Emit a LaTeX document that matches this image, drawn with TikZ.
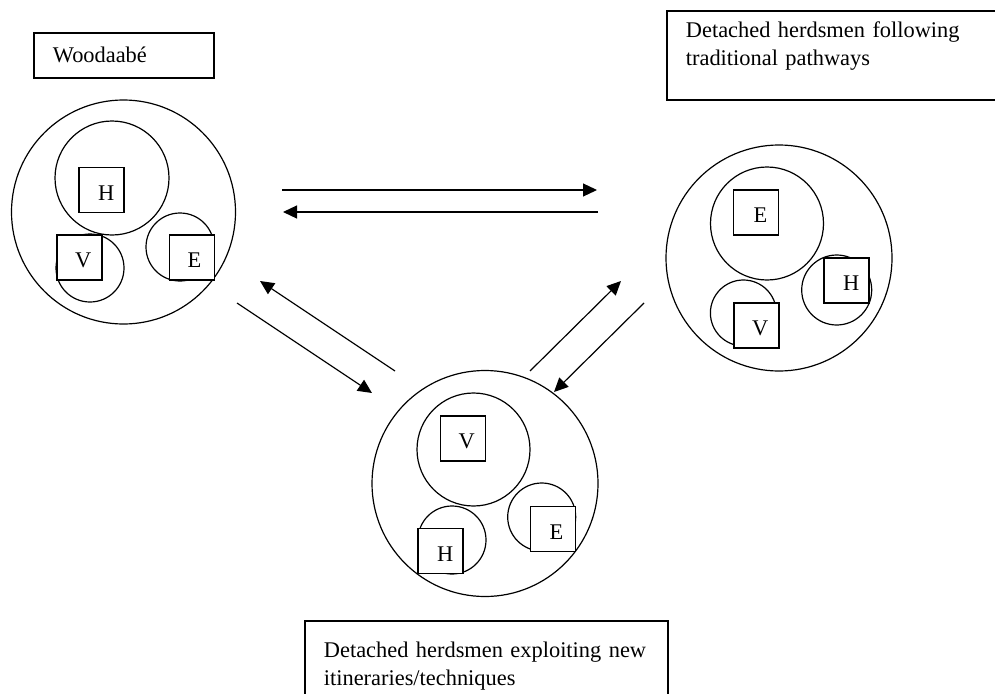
\documentclass[tikz,border=0pt]{standalone}
\usepackage{fontspec}
\setmainfont{Liberation Serif}
\usetikzlibrary{arrows.meta}

\begin{document}
\begin{tikzpicture}[x=1pt,y=-1pt,
	font=\fontsize{22.4}{28}\selectfont,
	ring/.style={draw, circle, line width=1.2pt, inner sep=0pt, minimum size=#1},
	sq/.style={draw, fill=white, line width=1.2pt, inner sep=0pt, minimum size=45pt,
		text width=45pt, align=left, text height=20pt, text depth=0pt},
	tag/.style={draw, line width=1.8pt, anchor=north west, inner xsep=19pt, inner ysep=0pt, align=left},
	arr/.style={line width=1.2pt, -{Triangle[length=14pt,width=13pt]}}]
	\useasboundingbox (0,0) rectangle (995,693);
	\clip (0,0) rectangle (995,693);

	\node[tag, text width=142pt, text height=30pt, text depth=15pt] (woodT) at (33,32) {Woodaab\'e};
	\node[tag, text width=302pt, text height=27pt, text depth=62pt] (tradT) at (666,10)
		{Detached herdsmen following\\traditional pathways};
	\node[tag, text width=325pt, text height=37pt, text depth=60pt] (newT) at (304,620)
		{Detached herdsmen exploiting new\\itineraries/techniques};

	\node[ring=224pt] (wood) at (123.5,212) {};
	\node[ring=114pt] (woodH) at (112,178) {};
	\node[ring=68pt] (woodV) at (90,268) {};
	\node[ring=68pt] (woodE) at (180,247) {};
	\node[sq] (woodHb) at (101.5,190) {\hspace*{19pt}H};
	\node[sq] (woodVb) at (79.5,257.5) {\hspace*{18pt}V};
	\node[sq] (woodEb) at (192,257.5) {\hspace*{18pt}E};

	\node[ring=226pt] (trad) at (779,258) {};
	\node[ring=113pt] (tradE) at (767,223.5) {};
	\node[ring=70pt] (tradH) at (836.7,290) {};
	\node[ring=66pt] (tradV) at (743.4,313) {};
	\node[sq] (tradEb) at (756,212.5) {\hspace*{20pt}E};
	\node[sq] (tradHb) at (846.5,280.5) {\hspace*{19pt}H};
	\node[sq] (tradVb) at (756.5,325.5) {\hspace*{18pt}V};

	\node[ring=226pt] (new) at (485,483.5) {};
	\node[ring=113pt] (newV) at (473.5,449.5) {};
	\node[ring=68pt] (newH) at (452,540) {};
	\node[ring=68pt] (newE) at (541.7,517) {};
	\node[sq] (newVb) at (463,438.5) {\hspace*{18pt}V};
	\node[sq] (newHb) at (440.5,551) {\hspace*{19pt}H};
	\node[sq] (newEb) at (553,529) {\hspace*{19pt}E};

	\coordinate (wt1) at (282,190);
	\coordinate (wt2) at (597,190);
	\coordinate (tw1) at (598,212);
	\coordinate (tw2) at (283,212);
	\coordinate (wn1) at (237,303);
	\coordinate (wn2) at (372,393);
	\coordinate (nw1) at (395,371);
	\coordinate (nw2) at (260,281);
	\coordinate (nt1) at (530,371);
	\coordinate (nt2) at (621,281);
	\coordinate (tn1) at (644,303);
	\coordinate (tn2) at (554,392);
	\draw[arr] (wt1) -- (wt2);
	\draw[arr] (tw1) -- (tw2);
	\draw[arr] (wn1) -- (wn2);
	\draw[arr] (nw1) -- (nw2);
	\draw[arr] (nt1) -- (nt2);
	\draw[arr] (tn1) -- (tn2);

\end{tikzpicture}
\end{document}
